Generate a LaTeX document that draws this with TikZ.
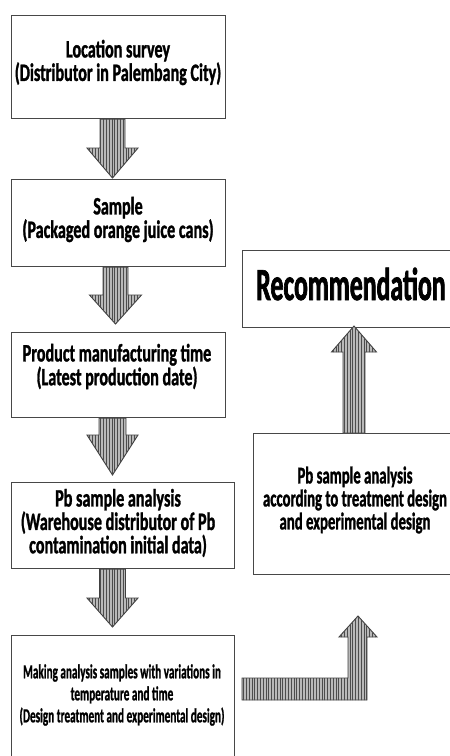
\documentclass[tikz,border=0pt]{standalone}
\usepackage{fontspec}
\newfontfamily\fA[FakeStretch=0.645,FakeBold=1.2]{Carlito}
\newfontfamily\fD[FakeStretch=0.615,FakeBold=1.2]{Carlito}
\newfontfamily\fB[FakeStretch=0.56,FakeBold=1.0]{Carlito}
\newfontfamily\fC[FakeStretch=0.56,FakeBold=1.5]{Carlito}
\usetikzlibrary{patterns.meta,calc}
\tikzset{
  box/.style={draw=black!72, line width=1.2pt, fill=white, rectangle, inner sep=0pt, anchor=north west},
  lbl/.style={align=center, inner sep=0pt, text=black},
  fa/.style={font=\fA\bfseries\fontsize{25pt}{22pt}\selectfont},
  blockarrow/.style={draw=black!75, line width=0.9pt, fill=gray!55,
    postaction={pattern={Lines[angle=90,distance=2.8pt,line width=0.75pt]}, pattern color=black!70}},
}
\newcommand\blockdown[5]{%
  \draw[blockarrow] let \p1=(#1), \p2=(#2) in
    (\x2-#3pt,\y1) -- (\x2-#3pt,\y2+#5pt) -- (\x2-#4pt,\y2+#5pt) -- (\x2,\y2)
    -- (\x2+#4pt,\y2+#5pt) -- (\x2+#3pt,\y2+#5pt) -- (\x2+#3pt,\y1) -- cycle;}
\newcommand\blockup[5]{%
  \draw[blockarrow] let \p1=(#1), \p2=(#2) in
    (\x2-#3pt,\y1) -- (\x2-#3pt,\y2-#5pt) -- (\x2-#4pt,\y2-#5pt) -- (\x2,\y2)
    -- (\x2+#4pt,\y2-#5pt) -- (\x2+#3pt,\y2-#5pt) -- (\x2+#3pt,\y1) -- cycle;}
\begin{document}
\begin{tikzpicture}[x=1pt,y=-1pt]
\useasboundingbox (0,0) rectangle (450,756);
\fill[white] (0,0) rectangle (450,756);
\clip (0,0) rectangle (450,756);

% boxes
\node[box, minimum width=214pt, minimum height=103pt] (b1) at (11,15) {};
\node[box, minimum width=214pt, minimum height=87pt]  (b2) at (11,179) {};
\node[box, minimum width=214pt, minimum height=85pt]  (b3) at (11,332) {};
\node[box, minimum width=223pt, minimum height=86pt]  (b4) at (11,482) {};
\node[box, minimum width=223pt, minimum height=135pt] (b5) at (11,635) {};
\node[box, minimum width=224pt, minimum height=77pt]  (rec) at (242,250) {};
\node[box, minimum width=206pt, minimum height=141pt] (rb) at (253,433) {};

% texts
\node[lbl, fa] (t1) at (118,62.5) {Location survey\\(Distributor in Palembang City)};
\node[lbl, fa] (t2) at (118,219.5) {Sample\\(Packaged orange juice cans)};
\node[lbl, fa] (t3) at (117,366.5) {Product manufacturing time\\(Latest production date)};
\node[lbl, fa] (t4) at (118,523) {Pb sample analysis\\(Warehouse distributor of Pb\\contamination initial data)};
\node[lbl, font=\fB\bfseries\fontsize{20pt}{22pt}\selectfont] (t5) at (122,695)
  {Making analysis samples with variations in\\temperature and time\\(Design treatment and experimental design)};
\node[lbl, font=\fC\bfseries\fontsize{46pt}{50pt}\selectfont] (trec) at (351,284) {Recommendation};
\node[lbl, font=\fD\bfseries\fontsize{24pt}{23pt}\selectfont] (trb) at (355,500)
  {Pb sample analysis\\according to treatment design\\and experimental design};

% arrow tips
\coordinate (tip1) at (112.5,178);
\coordinate (tip2) at (115.5,324);
\coordinate (tip3) at (112.5,475);
\coordinate (tip4) at (112.5,627);
\coordinate (tipu) at (354,326);
\coordinate (lstart) at (242,689);
\coordinate (ltip) at (358,616);

\blockdown{b1.south -| tip1}{tip1}{12.5}{25.5}{30}
\blockdown{b2.south -| tip2}{tip2}{12.5}{26}{29}
\blockdown{b3.south -| tip3}{tip3}{13.5}{25.5}{40}
\blockdown{b4.south -| tip4}{tip4}{13}{25.5}{29}
\blockup{rb.north -| tipu}{tipu}{11}{22.5}{26}

\draw[blockarrow] let \p1=(lstart), \p2=(ltip) in
  (\x1,\y1+11pt) -- (\x2-10pt,\y1+11pt) -- (\x2-10pt,\y2-21pt) -- (\x2-19pt,\y2-21pt)
  -- (\x2,\y2) -- (\x2+19pt,\y2-21pt) -- (\x2+9pt,\y2-21pt) -- (\x2+9pt,\y1-11pt)
  -- (\x1,\y1-11pt) -- cycle;
\end{tikzpicture}
\end{document}
